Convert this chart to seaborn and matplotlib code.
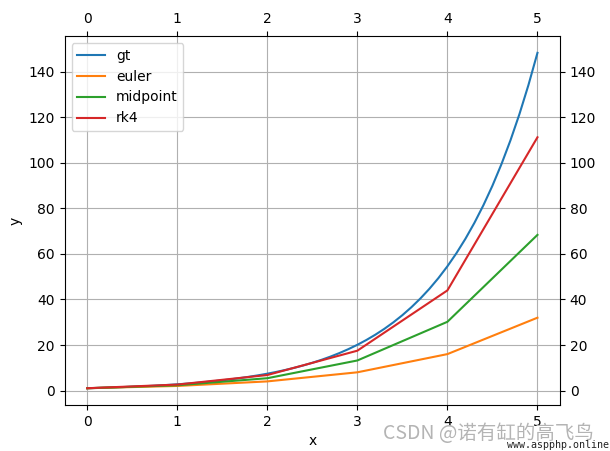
import numpy as np
import pandas as pd
import matplotlib
matplotlib.use("Agg")
import matplotlib.pyplot as plt
import seaborn as sns

# exact solution sampled on a fine grid (x from 0 to 5, step 0.1)
gt_x = [i / 10 for i in range(51)]
gt_y = [1.000, 1.105, 1.221, 1.350, 1.492, 1.649, 1.822, 2.014, 2.226, 2.460,
        2.718, 3.004, 3.320, 3.669, 4.055, 4.482, 4.953, 5.474, 6.050, 6.686,
        7.389, 8.166, 9.025, 9.974, 11.023, 12.182, 13.464, 14.880, 16.445, 18.174,
        20.086, 22.198, 24.533, 27.113, 29.964, 33.115, 36.598, 40.447, 44.701, 49.402,
        54.598, 60.340, 66.686, 73.700, 81.451, 90.017, 99.484, 109.947, 121.510, 134.290,
        148.413]

# numerical solvers, step h = 1
step_x = [0, 1, 2, 3, 4, 5]
euler_y = [1.0, 2.0, 4.0, 8.0, 16.0, 32.0]
midpoint_y = [1.0, 2.3, 5.4, 13.2, 30.2, 68.4]
rk4_y = [1.0, 2.6, 6.8, 17.5, 44.0, 111.3]

series = {"gt": (gt_x, gt_y), "euler": (step_x, euler_y),
          "midpoint": (step_x, midpoint_y), "rk4": (step_x, rk4_y)}
colors = ["#1f77b4", "#ff7f0e", "#2ca02c", "#d62728"]

fig = plt.figure(figsize=(6.10, 4.51), dpi=100)
ax = fig.add_axes([0.106, 0.102, 0.812, 0.818])

for (name, (xs, ys)), c in zip(series.items(), colors):
    df = pd.DataFrame({"x": xs, "y": ys})
    sns.lineplot(data=df, x="x", y="y", ax=ax, color=c, label=name, linewidth=1.5)

ax.grid(True)
ax.set_xlabel("x")
ax.set_ylabel("y")
ax.set_yticks(np.arange(0, 141, 20))
ax.tick_params(top=True, labeltop=True, right=True, labelright=True)
ax.legend(loc="upper left")

fig.text(0.628, 0.027, "CSDN @诺有缸的高飞鸟", fontsize=14, color="#b4b4b4",
         family=["Noto Sans CJK SC", "DejaVu Sans"])
fig.text(0.998, 0.003, "www.aspphp.online", fontsize=7.2, color="#222222",
         family="DejaVu Sans Mono", ha="right", va="bottom")

fig.savefig("out.png", dpi=100)
